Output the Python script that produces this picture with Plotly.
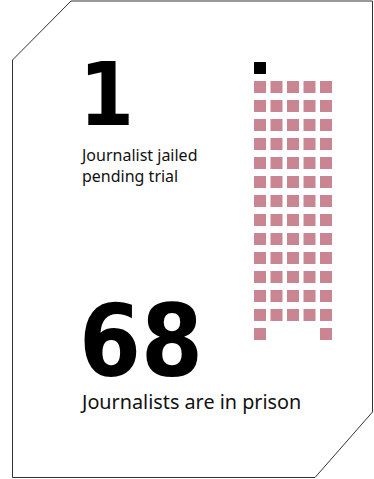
import plotly.graph_objects as go

# ---- data ----
labels = ["Journalist jailed<br>pending trial", "Journalists are in prison"]
pending_count = 1
prison_total = 68
colors = {"pending": "#000000", "prison": "#c98591"}

# ---- waffle layout parameters ----
W, H = 374, 479
n_cols = 5
x0, dx = 260, 16.5
y0, dy = 68, 19
sq = 12

# build the waffle: first row holds pending, then full rows, remainder at row edges
xs_p, ys_p = [], []
for i in range(pending_count):
    xs_p.append(x0 + (i % n_cols) * dx)
    ys_p.append(y0 + (i // n_cols) * dy)
rest = prison_total - pending_count
full_rows = rest // n_cols
rem = rest % n_cols
start_row = (pending_count + n_cols - 1) // n_cols
xs_r, ys_r = [], []
for r in range(full_rows):
    for c in range(n_cols):
        xs_r.append(x0 + c * dx)
        ys_r.append(y0 + (start_row + r) * dy)
edge_cols = []
lo, hi = 0, n_cols - 1
for k in range(rem):
    if k % 2 == 0:
        edge_cols.append(lo); lo += 1
    else:
        edge_cols.append(hi); hi -= 1
for c in sorted(edge_cols):
    xs_r.append(x0 + c * dx)
    ys_r.append(y0 + (start_row + full_rows) * dy)

fig = go.Figure()
fig.add_trace(go.Scatter(x=xs_r, y=ys_r, mode="markers",
                         marker=dict(symbol="square", size=sq, color=colors["prison"], line=dict(width=0)),
                         hoverinfo="skip"))
fig.add_trace(go.Scatter(x=xs_p, y=ys_p, mode="markers",
                         marker=dict(symbol="square", size=sq, color=colors["pending"], line=dict(width=0)),
                         hoverinfo="skip"))

# frame
fig.add_shape(type="path",
              path="M 12.5,60 L 71,1 L 372.5,1 L 372.5,412 L 315,477.5 L 12.5,477.5 Z",
              line=dict(color="#333333", width=1), layer="below")

big_family = "DejaVu Sans Condensed, DejaVu Sans"
lab_family = "Noto Sans"

fig.add_annotation(x=77, y=148, text="<b>%d</b>" % pending_count, showarrow=False,
                   xanchor="left", yanchor="bottom",
                   font=dict(family=big_family, size=88, color="#000000"))
fig.add_annotation(x=78, y=142, text=labels[0], showarrow=False, align="left",
                   xanchor="left", yanchor="top",
                   font=dict(family=lab_family, size=16, color="#111111"))
fig.add_annotation(x=77, y=401, text="<b>%d</b>" % prison_total, showarrow=False,
                   xanchor="left", yanchor="bottom",
                   font=dict(family=big_family, size=99, color="#000000"))
fig.add_annotation(x=78, y=386, text=labels[1], showarrow=False, align="left",
                   xanchor="left", yanchor="top",
                   font=dict(family=lab_family, size=19.8, color="#111111"))

fig.update_layout(width=W, height=H, margin=dict(l=0, r=0, t=0, b=0),
                  paper_bgcolor="white", plot_bgcolor="white", showlegend=False,
                  xaxis=dict(range=[0, W], visible=False, fixedrange=True),
                  yaxis=dict(range=[H, 0], visible=False, fixedrange=True))

fig.write_html("out.html", config={"displayModeBar": False})
